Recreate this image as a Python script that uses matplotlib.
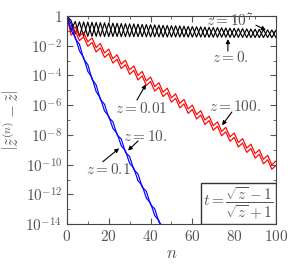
import numpy as np
import matplotlib
matplotlib.use("Agg")
import matplotlib.pyplot as plt
from matplotlib.patches import Rectangle

plt.rcParams['mathtext.fontset'] = 'cm'
plt.rcParams['font.family'] = 'serif'

# log10 of the error
n_black = np.arange(0, 101, 2)
black_z1e7 = [0, -0.95, -0.37, -1.37, -0.40, -1.37, -0.42, -1.37, -0.45, -1.38,
              -0.47, -1.38, -0.49, -1.39, -0.52, -1.39, -0.54, -1.39, -0.57, -1.40,
              -0.59, -1.40, -0.61, -1.41, -0.64, -1.41, -0.66, -1.41, -0.69, -1.42,
              -0.71, -1.42, -0.73, -1.43, -0.76, -1.43, -0.78, -1.43, -0.81, -1.44,
              -0.83, -1.44, -0.85, -1.45, -0.88, -1.45, -0.90, -1.45, -0.93, -1.46,
              -0.95]
black_z0 = [0, -0.30, -1.20, -0.39, -1.37, -0.41, -1.37, -0.43, -1.37, -0.46,
            -1.38, -0.48, -1.38, -0.51, -1.39, -0.53, -1.39, -0.55, -1.39, -0.58,
            -1.40, -0.60, -1.40, -0.63, -1.41, -0.65, -1.41, -0.67, -1.41, -0.70,
            -1.42, -0.72, -1.42, -0.75, -1.43, -0.77, -1.43, -0.79, -1.43, -0.82,
            -1.44, -0.84, -1.44, -0.87, -1.45, -0.89, -1.45, -0.91, -1.45, -0.94,
            -1.46]

n_red = np.arange(0, 101, 2)
red_z001 = [0, -0.99, -0.73, -1.36, -1.10, -1.74, -1.48, -2.12, -1.85, -2.49,
            -2.23, -2.87, -2.61, -3.24, -2.98, -3.62, -3.36, -4.00, -3.73, -4.37,
            -4.11, -4.75, -4.49, -5.12, -4.86, -5.50, -5.24, -5.88, -5.61, -6.25,
            -5.99, -6.63, -6.37, -7.00, -6.74, -7.38, -7.12, -7.76, -7.49, -8.13,
            -7.87, -8.51, -8.25, -8.88, -8.62, -9.26, -9.00, -9.64, -9.37, -10.01,
            -9.75]
red_z100 = [0, -1.29, -1.03, -1.66, -1.40, -2.04, -1.78, -2.42, -2.15, -2.79,
            -2.53, -3.17, -2.91, -3.54, -3.28, -3.92, -3.66, -4.30, -4.03, -4.67,
            -4.41, -5.05, -4.79, -5.42, -5.16, -5.80, -5.54, -6.18, -5.91, -6.55,
            -6.29, -6.93, -6.67, -7.30, -7.04, -7.68, -7.42, -8.06, -7.79, -8.43,
            -8.17, -8.81, -8.55, -9.18, -8.92, -9.56, -9.30, -9.94, -9.67, -10.31,
            -10.05]

n_blue = np.arange(0, 49, 2)
blue_z01 = [0, -0.98, -1.42, -2.35, -2.79, -3.72, -4.15, -5.09, -5.52, -6.39,
            -6.73, -7.56, -7.90, -8.73, -9.07, -9.91, -10.24, -11.08, -11.41, -12.25,
            -12.59, -13.42, -13.76, -14.60, -14.93]
blue_z10 = [0, -0.53, -1.52, -1.90, -2.89, -3.27, -4.25, -4.64, -5.62, -5.94,
            -6.83, -7.11, -8.00, -8.28, -9.17, -9.46, -10.34, -10.63, -11.51, -11.80,
            -12.69, -12.97, -13.86, -14.15, -15.03]

fig = plt.figure(figsize=(3.0, 2.71), dpi=100)
ax = fig.add_axes([0.223, 0.173, 0.697, 0.768])

lw = 0.85
ax.plot(n_black, 10.0 ** np.array(black_z1e7), color='black', lw=lw)
ax.plot(n_black, 10.0 ** np.array(black_z0), color='black', lw=lw)
ax.plot(n_red, 10.0 ** np.array(red_z001), color='red', lw=lw)
ax.plot(n_red, 10.0 ** np.array(red_z100), color='red', lw=lw)
ax.plot(n_blue, 10.0 ** np.array(blue_z01), color='blue', lw=lw)
ax.plot(n_blue, 10.0 ** np.array(blue_z10), color='blue', lw=lw)

ax.set_yscale('log')
ax.set_xlim(0, 100)
ax.set_ylim(1e-14, 1)
yt = [10.0 ** -k for k in range(0, 15, 2)]
ax.set_yticks(yt)
ax.set_yticklabels(['$1$'] + ['$10^{-%d}$' % k for k in range(2, 15, 2)])
ax.set_yticks([10.0 ** -k for k in range(1, 14, 2)], minor=True)
ax.set_xticks([0, 20, 40, 60, 80, 100])
ax.set_xticklabels(['$%d$' % v for v in [0, 20, 40, 60, 80, 100]])
ax.set_xticks([10, 30, 50, 70, 90], minor=True)
ax.tick_params(which='both', direction='in', top=True, right=True,
               labelsize=11, labelcolor='#555555', color='#555555')
ax.tick_params(which='major', length=4)
ax.tick_params(which='minor', length=2, labelleft=False, labelbottom=False)
for s in ax.spines.values():
    s.set_color('#444444')

ax.set_xlabel('$n$', fontsize=12, color='#555555', labelpad=1)
ax.set_ylabel(r'$\left|\tilde{z}^{(n)}-\tilde{z}\right|$', fontsize=12,
              color='#555555', labelpad=2)

ann = [
    ('$z=10^7$', (78, -0.32), (90.4, -0.62), (95.2, -0.95)),
    ('$z=0.$', (78, -2.76), (77, -2.36), (77, -1.55)),
    ('$z=0.01$', (35.4, -6.19), (33.5, -5.65), (37.8, -4.6)),
    ('$z=100.$', (80.4, -6.06), (78.9, -6.46), (74.2, -7.35)),
    ('$z=10.$', (37.3, -8.08), (34, -8.41), (29.2, -9.05)),
    ('$z=0.1$', (19.6, -10.3), (17.2, -9.8), (25.0, -8.9)),
]
for label, tpos, tail, tip in ann:
    ax.text(tpos[0], 10.0 ** tpos[1], label, fontsize=11, color='#555555',
            ha='center', va='center', zorder=7)
    ax.annotate('', xy=(tip[0], 10.0 ** tip[1]), xytext=(tail[0], 10.0 ** tail[1]),
                arrowprops=dict(arrowstyle='-|>', color='black', lw=0.8,
                                mutation_scale=6, shrinkA=0, shrinkB=0))

box_h = 0.197
ax.add_patch(Rectangle((0.64, 0.0), 0.36, box_h, transform=ax.transAxes,
                       fc='white', ec='#333333', lw=1.0, zorder=5))
ax.text(0.82, box_h / 2, r'$t=\dfrac{\sqrt{z}-1}{\sqrt{z}+1}$', transform=ax.transAxes,
        fontsize=11, color='#555555', ha='center', va='center', zorder=6)

fig.savefig('out.png', dpi=100)
